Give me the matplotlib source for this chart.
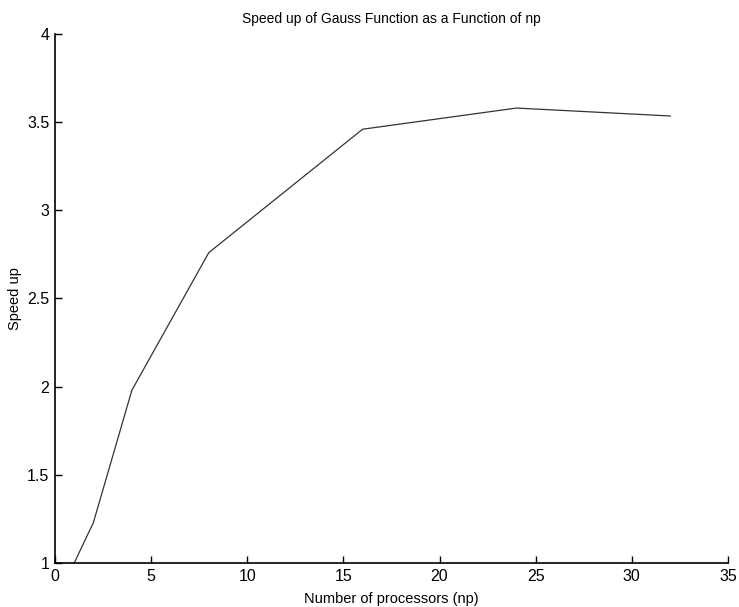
import numpy as np
import matplotlib.pyplot as plt

# nombre de processeurs et accélération mesurée
processeurs = [1, 2, 4, 8, 16, 24, 32]
acceleration = [1.0, 1.23, 1.98, 2.76, 3.46, 3.58, 3.535]

xticks = [0, 5, 10, 15, 20, 25, 30, 35]
yticks = [1, 1.5, 2, 2.5, 3, 3.5, 4]

plt.rcParams['font.family'] = ['Liberation Sans', 'DejaVu Sans']

fig = plt.figure(figsize=(7.39, 6.07), dpi=100)
ax = fig.add_axes([0.0744, 0.0725, 0.9106, 0.8715])

ax.plot(processeurs, acceleration, color="#333333", linewidth=0.9)

ax.set_xlim(0, 35)
ax.set_ylim(1, 4)
ax.set_xticks(xticks)
ax.set_yticks(yticks)
ax.set_xticklabels([str(v) for v in xticks])
ax.set_yticklabels([f"{v:g}" for v in yticks])

# style matlab : axes gauche et bas seulement, graduations internes
ax.spines["top"].set_visible(False)
ax.spines["right"].set_visible(False)
for s in ("left", "bottom"):
    ax.spines[s].set_linewidth(1.2)
ax.tick_params(direction="in", length=5, width=1, labelsize=11.5, pad=4)

ax.set_title("Speed up of Gauss Function as a Function of np", fontsize=10, pad=8)
ax.set_xlabel("Number of processors (np)", fontsize=10.5, labelpad=6)
ax.set_ylabel("Speed up", fontsize=10.5, labelpad=4)

fig.savefig("out.png", dpi=100)
